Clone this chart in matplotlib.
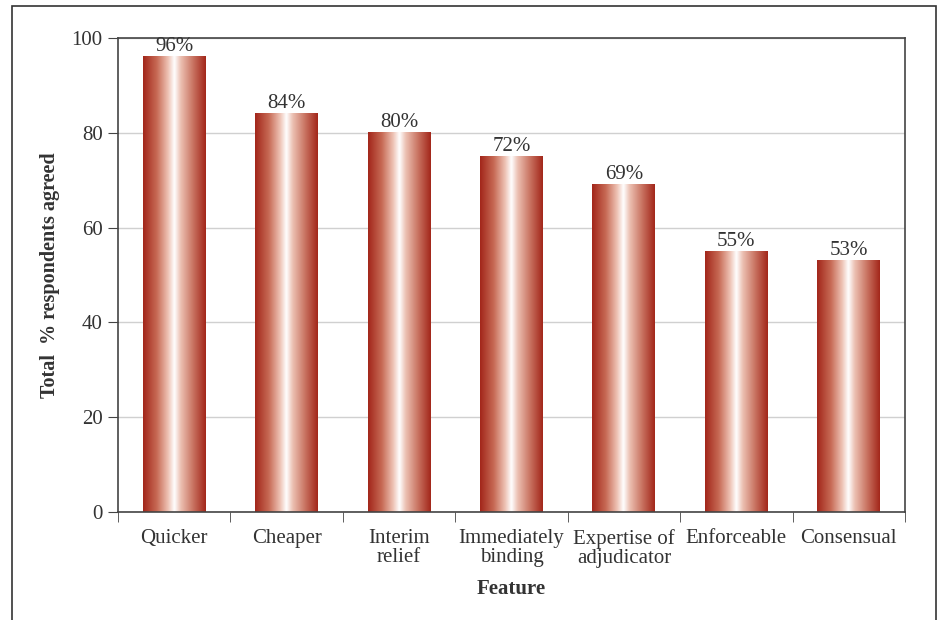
import numpy as np
import matplotlib
matplotlib.use("Agg")
import matplotlib.pyplot as plt
from matplotlib.colors import LinearSegmentedColormap
from matplotlib.patches import Rectangle

features = ["Quicker", "Cheaper", "Interim\nrelief", "Immediately\nbinding",
            "Expertise of\nadjudicator", "Enforceable", "Consensual"]
heights = [96, 84, 80, 75, 69, 55, 53]
labels = ["96%", "84%", "80%", "72%", "69%", "55%", "53%"]

plt.rcParams['font.family'] = ['Liberation Serif', 'DejaVu Serif']

fig = plt.figure(figsize=(9.4, 6.2), dpi=100)
ax = fig.add_axes([118/940, 1 - 512/620, (905-118)/940, (512-38)/620])

# outer frame (open at the bottom)
fig.patches.append(Rectangle((12/940, -0.05), (936-12)/940, 1.05 - 6/620,
                             transform=fig.transFigure, fill=False,
                             edgecolor='#333333', linewidth=1.2))

cmap = LinearSegmentedColormap.from_list("barfade", [
    (0.0, '#a2261a'), (0.22, '#c76a55'), (0.40, '#eec3b5'),
    (0.5, '#ffffff'), (0.60, '#ecc0b2'), (0.80, '#c87260'), (1.0, '#a2261a')])
grad = np.linspace(0, 1, 256).reshape(1, -1)

fs = 15
w = 0.56
x = np.arange(len(features))
for xi, h, lab in zip(x, heights, labels):
    ax.imshow(grad, cmap=cmap, aspect='auto', extent=[xi - w/2, xi + w/2, 0, h],
              zorder=2, interpolation='bicubic')
    ax.text(xi, h + 0.1, lab, ha='center', va='bottom', fontsize=fs, color='#333333')

ax.set_xlim(-0.5, len(features) - 0.5)
ax.set_ylim(0, 100)
ax.set_yticks([0, 20, 40, 60, 80, 100])
ax.yaxis.grid(True, color='#d0d0d0', linewidth=1)
ax.set_axisbelow(True)

ax.set_xticks(x)
ax.set_xticklabels(features, fontsize=fs, color='#333333', linespacing=1.05)
ax.set_xticks(np.arange(-0.5, len(features)), minor=True)
ax.tick_params(axis='x', which='major', length=0, pad=12)
ax.tick_params(axis='x', which='minor', length=7, direction='out', color='#444444')
ax.tick_params(axis='y', length=7, direction='out', labelsize=fs, labelcolor='#333333',
               color='#444444', pad=4)

for s in ax.spines.values():
    s.set_color('#444444')
    s.set_linewidth(1.2)

ax.set_xlabel('Feature', fontsize=fs, fontweight='bold', color='#333333', labelpad=8)
ax.set_ylabel('Total  % respondents agreed', fontsize=14.5, fontweight='bold',
              color='#333333', labelpad=8)

fig.savefig('out.png', dpi=100)
